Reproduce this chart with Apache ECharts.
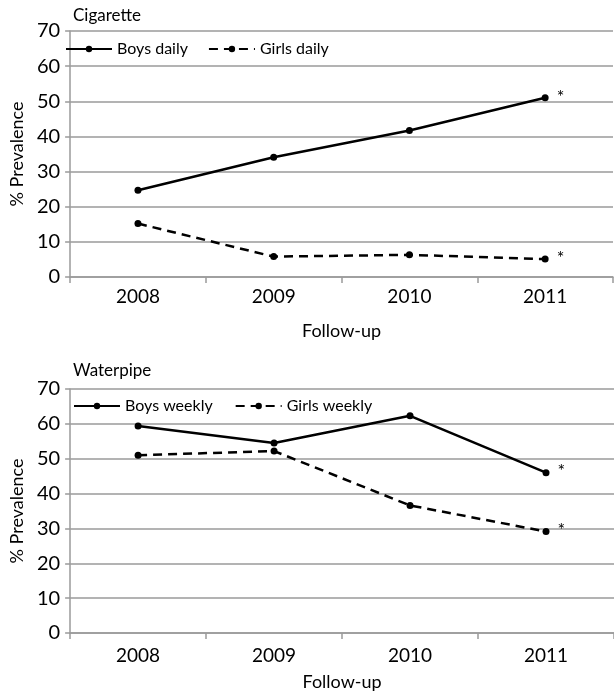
<!DOCTYPE html>
<html><head><meta charset="utf-8">
<script src="https://cdn.jsdelivr.net/npm/echarts@6/dist/echarts.min.js"></script>
<style>html,body{margin:0;padding:0;background:#fff}#c{width:614px;height:692px}</style>
</head><body><div id="c"></div>
<script>
const years = ['2008','2009','2010','2011'];
const cigBoys = [24.7, 34.1, 41.7, 51.0];
const cigGirls = [15.2, 5.8, 6.3, 5.1];
const wpBoys = [59.4, 54.5, 62.3, 46.0];
const wpGirls = [51.0, 52.2, 36.6, 29.1];
const sigMark = [false, false, false, true];

const FONT = 'Lato';
const chart = echarts.init(document.getElementById('c'));
function withStar(arr){
  return arr.map((v,i)=> sigMark[i] ? {value:v, label:{show:true, formatter:'*', position:'right', distance:8, offset:[0,-1], color:'#000', fontSize:18, fontFamily:FONT}} : v);
}
function ser(name, data, xi, dashed){
  return {name, type:'line', xAxisIndex:xi, yAxisIndex:xi, data:withStar(data),
    symbol:'circle', symbolSize:7, color:'#000',
    lineStyle:{color:'#000', width:2.5, type: dashed ? [9,6] : 'solid'},
    itemStyle:{color:'#000'}, animation:false};
}
function xAx(gi){
  return {type:'category', gridIndex:gi, data:years, boundaryGap:true,
    axisLine:{lineStyle:{color:'#9a9a9a', width:1.5}},
    axisTick:{show:true, length:6, lineStyle:{color:'#9a9a9a', width:1.5}},
    axisLabel:{color:'#000', fontSize:19, fontFamily:FONT, margin: gi===0 ? 10 : 13},
    name:'Follow-up', nameLocation:'middle', nameGap: gi===0 ? 45 : 40,
    nameTextStyle:{color:'#000', fontSize:18, fontFamily:FONT}};
}
function yAx(gi){
  return {type:'value', gridIndex:gi, min:0, max:70, interval:10,
    axisLine:{show:true, lineStyle:{color:'#9a9a9a', width:1.5}},
    axisTick:{show:true, length:5, lineStyle:{color:'#9a9a9a', width:1.5}},
    splitLine:{lineStyle:{color:'#9a9a9a', width:1.5}},
    axisLabel:{color:'#000', fontSize:20, fontFamily:FONT, margin:10},
    name:'% Prevalence', nameLocation:'middle', nameGap:38, nameRotate:90,
    nameTextStyle:{color:'#000', fontSize:18, fontFamily:FONT}};
}
chart.setOption({
  animation:false,
  title:[
    {text:'Cigarette', left:68, top:2, textStyle:{fontSize:17, fontWeight:'normal', color:'#000', fontFamily:FONT}},
    {text:'Waterpipe', left:68, top:357, textStyle:{fontSize:17, fontWeight:'normal', color:'#000', fontFamily:FONT}}
  ],
  legend:[
    {left:60, top:36, itemWidth:46, itemHeight:8, itemGap:20, data:['Boys daily','Girls daily'],
      textStyle:{fontSize:16, fontFamily:FONT, color:'#000'}},
    {left:68, top:393, itemWidth:46, itemHeight:8, itemGap:22, data:['Boys weekly','Girls weekly'],
      textStyle:{fontSize:16, fontFamily:FONT, color:'#000'}}
  ],
  grid:[
    {left:59, right:1, top:31, height:246},
    {left:62, right:0, top:389, height:244}
  ],
  xAxis:[xAx(0), xAx(1)],
  yAxis:[yAx(0), yAx(1)],
  series:[
    ser('Boys daily', cigBoys, 0, false),
    ser('Girls daily', cigGirls, 0, true),
    ser('Boys weekly', wpBoys, 1, false),
    ser('Girls weekly', wpGirls, 1, true)
  ]
});
</script></body></html>
